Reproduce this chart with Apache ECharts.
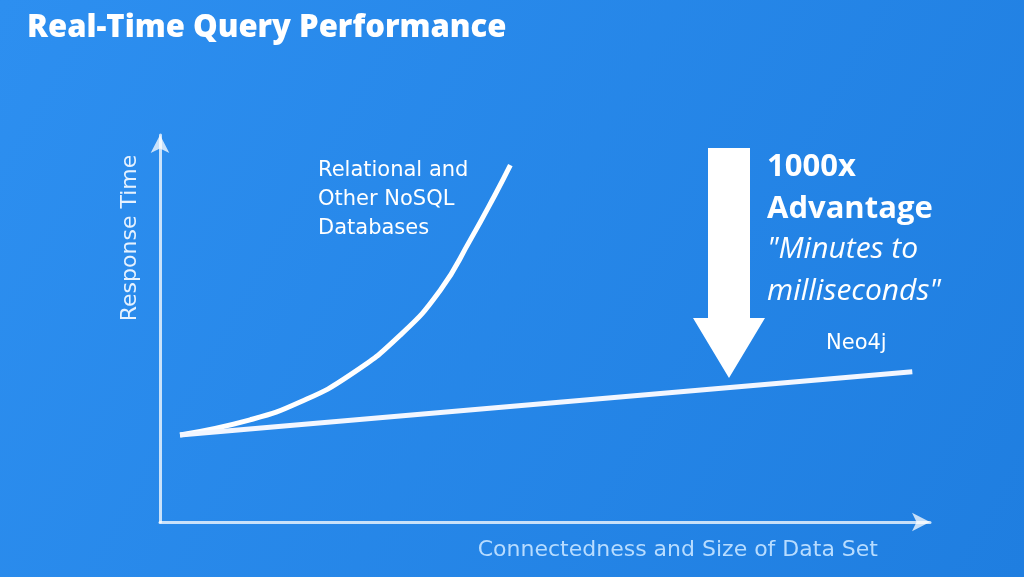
<!DOCTYPE html>
<html>
<head>
<meta charset="utf-8">
<script src="https://cdn.jsdelivr.net/npm/echarts@6/dist/echarts.min.js"></script>
<style>
  html, body { margin: 0; padding: 0; }
  #chart { width: 1024px; height: 577px; }
</style>
</head>
<body>
<div id="chart"></div>
<script>
// curve (x: data set size, y: response time)
const relational = [[2.6, 22.5], [11.7, 26.4], [18.2, 31.0], [24.7, 38.0], [31.2, 48.3], [36.4, 59.9], [40.3, 72.9], [43.5, 84.5], [45.5, 92.2]]
const neo4j = [[2.6, 22.5], [97.7, 38.8]]
const titleText = 'Real-Time Query Performance'
const xName = 'Connectedness and Size of Data Set'
const yName = 'Response Time'

const chart = echarts.init(document.getElementById('chart'))
const font = '"Open Sans", sans-serif'
const wide = '"DejaVu Sans", sans-serif'

chart.setOption({
  backgroundColor: {
    type: 'linear', x: 0, y: 0, x2: 1, y2: 1,
    colorStops: [{ offset: 0, color: '#2d8ff0' }, { offset: 1, color: '#1f7ee0' }]
  },
  title: {
    text: titleText, left: 22, top: 8,
    textStyle: { color: '#fff', fontSize: 31, fontWeight: 800, fontFamily: font }
  },
  grid: { left: 160, right: 94, top: 135, bottom: 55 },
  xAxis: {
    type: 'value', min: 0, max: 100,
    axisLine: { lineStyle: { color: 'rgba(255,255,255,0.75)', width: 3 }, symbol: ['none', 'arrow'], symbolSize: [14, 18] },
    axisTick: { show: false }, axisLabel: { show: false }, splitLine: { show: false }
  },
  yAxis: {
    type: 'value', min: 0, max: 100,
    axisLine: { lineStyle: { color: 'rgba(255,255,255,0.75)', width: 3 }, symbol: ['none', 'arrow'], symbolSize: [14, 18] },
    axisTick: { show: false }, axisLabel: { show: false }, splitLine: { show: false }
  },
  series: [
    { type: 'line', data: relational, smooth: 0.5, showSymbol: false, lineStyle: { color: '#fff', width: 5 } },
    { type: 'line', data: neo4j, showSymbol: false, lineStyle: { color: '#f2f6ff', width: 5 } }
  ],
  graphic: [
    { type: 'polygon', shape: { points: [[708, 148], [750, 148], [750, 318], [765, 318], [729, 378], [693, 318], [708, 318]] }, style: { fill: '#fff' } },
    { type: 'text', x: 130, y: 238, rotation: Math.PI / 2, style: { text: yName, fill: '#e6f2ff', font: '22px ' + wide, align: 'center', verticalAlign: 'middle' } },
    { type: 'text', x: 878, y: 550, style: { text: xName, fill: '#b7dcff', font: '22px ' + wide, align: 'right', verticalAlign: 'middle' } },
    { type: 'text', left: 318, top: 156, style: { text: 'Relational and\nOther NoSQL\nDatabases', fill: '#fff', font: '21px ' + wide, lineHeight: 29 } },
    { type: 'text', left: 767, top: 146, style: { text: '1000x\nAdvantage', fill: '#fff', font: 'bold 31px ' + font, lineHeight: 42 } },
    { type: 'text', left: 767, top: 228, style: { text: '"Minutes to\nmilliseconds"', fill: '#fff', font: 'italic 30px ' + font, lineHeight: 42 } },
    { type: 'text', left: 826, top: 333, style: { text: 'Neo4j', fill: '#fff', font: '21px ' + wide } }
  ]
})
</script>
</body>
</html>
